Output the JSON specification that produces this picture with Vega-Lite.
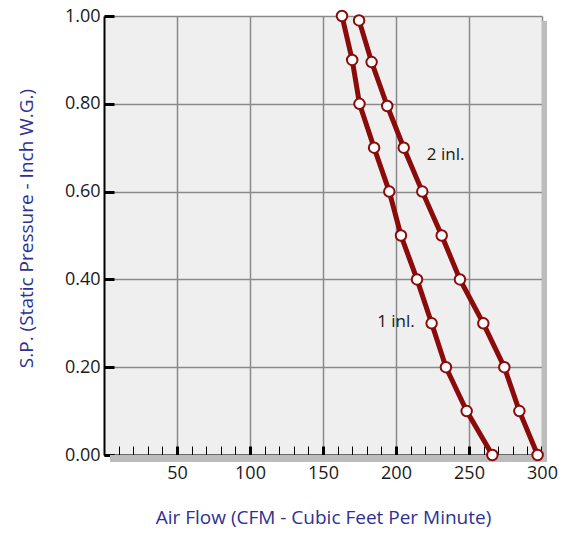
{
  "$schema": "https://vega.github.io/schema/vega-lite/v6.json",
  "width": 438,
  "height": 439,
  "autosize": {"type": "none"},
  "padding": {"left": 104, "top": 16, "right": 27, "bottom": 78},
  "background": "white",
  "config": {
    "view": {"fill": "#efefef", "stroke": null},
    "font": "Open Sans"
  },
  "datasets": {
    "curves": [
      {"series": "1 inl.", "cfm": 163, "sp": 1.0},
      {"series": "1 inl.", "cfm": 170, "sp": 0.9},
      {"series": "1 inl.", "cfm": 175, "sp": 0.8},
      {"series": "1 inl.", "cfm": 185, "sp": 0.7},
      {"series": "1 inl.", "cfm": 195.4, "sp": 0.6},
      {"series": "1 inl.", "cfm": 203.4, "sp": 0.5},
      {"series": "1 inl.", "cfm": 214.4, "sp": 0.4},
      {"series": "1 inl.", "cfm": 224.4, "sp": 0.3},
      {"series": "1 inl.", "cfm": 234.2, "sp": 0.2},
      {"series": "1 inl.", "cfm": 248.4, "sp": 0.1},
      {"series": "1 inl.", "cfm": 266, "sp": 0.0},
      {"series": "2 inl.", "cfm": 174.7, "sp": 0.99},
      {"series": "2 inl.", "cfm": 183.3, "sp": 0.895},
      {"series": "2 inl.", "cfm": 194, "sp": 0.795},
      {"series": "2 inl.", "cfm": 205.3, "sp": 0.7},
      {"series": "2 inl.", "cfm": 218, "sp": 0.6},
      {"series": "2 inl.", "cfm": 231.3, "sp": 0.5},
      {"series": "2 inl.", "cfm": 243.8, "sp": 0.4},
      {"series": "2 inl.", "cfm": 259.8, "sp": 0.3},
      {"series": "2 inl.", "cfm": 274.2, "sp": 0.2},
      {"series": "2 inl.", "cfm": 284.5, "sp": 0.1},
      {"series": "2 inl.", "cfm": 297, "sp": 0.0}
    ],
    "labels": [
      {"text": "2 inl.", "cfm": 234, "sp": 0.683},
      {"text": "1 inl.", "cfm": 200, "sp": 0.303}
    ]
  },
  "layer": [
    {
      "data": {"name": "curves"},
      "mark": {"type": "line", "color": "#8b0a0a", "strokeWidth": 5},
      "encoding": {
        "x": {
          "field": "cfm", "type": "quantitative",
          "scale": {"domain": [0, 300], "nice": false},
          "axis": {
            "values": [10, 20, 30, 40, 50, 60, 70, 80, 90, 100, 110, 120, 130, 140, 150, 160, 170, 180, 190, 200, 210, 220, 230, 240, 250, 260, 270, 280, 290, 300],
            "tickCount": 100,
            "labelExpr": "datum.value % 50 === 0 ? datum.label : ''",
            "labelFlush": false,
            "labelOverlap": false,
            "labelFontSize": 18,
            "labelColor": "#1a1a1a",
            "labelPadding": 18,
            "tickSize": -9,
            "tickColor": "#000000",
            "tickWidth": {"condition": {"test": "datum.value % 50 === 0", "value": 3}, "value": 1},
            "domainColor": "#000000",
            "domainWidth": 2,
            "grid": true,
            "gridColor": "#8a8a8a",
            "gridWidth": 1.5,
            "gridOpacity": {"condition": {"test": "datum.value % 50 === 0", "value": 1}, "value": 0},
            "title": "Air Flow (CFM - Cubic Feet Per Minute)",
            "titleFontSize": 19,
            "titleFontWeight": "normal",
            "titleColor": "#2e3192",
            "titlePadding": 26
          }
        },
        "y": {
          "field": "sp", "type": "quantitative",
          "scale": {"domain": [0, 1], "nice": false},
          "axis": {
            "values": [0, 0.2, 0.4, 0.6, 0.8, 1.0],
            "tickCount": 100,
            "format": ".2f",
            "labelFontSize": 18,
            "labelColor": "#1a1a1a",
            "labelPadding": 14,
            "tickSize": -10,
            "tickWidth": 3,
            "tickColor": "#000000",
            "domainColor": "#000000",
            "domainWidth": 2,
            "grid": true,
            "gridColor": "#8a8a8a",
            "gridWidth": 1.5,
            "title": "S.P. (Static Pressure - Inch W.G.)",
            "titleFontSize": 19,
            "titleFontWeight": "normal",
            "titleColor": "#2e3192",
            "titlePadding": 28,
            "titleY": 212
          }
        },
        "detail": {"field": "series"}
      }
    },
    {
      "data": {"values": [{}]},
      "mark": {"type": "rect", "fill": "#bcbcbc", "x2Offset": 5, "yOffset": 5, "y2Offset": 7},
      "encoding": {
        "x": {"datum": 300, "type": "quantitative"},
        "x2": {"datum": 300},
        "y": {"datum": 1, "type": "quantitative"},
        "y2": {"datum": 0}
      }
    },
    {
      "data": {"values": [{}]},
      "mark": {"type": "rect", "fill": "#bcbcbc", "xOffset": 6, "x2Offset": 5, "y2Offset": 7},
      "encoding": {
        "x": {"datum": 0, "type": "quantitative"},
        "x2": {"datum": 300},
        "y": {"datum": 0, "type": "quantitative"},
        "y2": {"datum": 0}
      }
    },
    {
      "data": {"name": "curves"},
      "mark": {"type": "point", "shape": "circle", "filled": true, "fill": "white", "stroke": "#8b0a0a", "strokeWidth": 2, "size": 110, "opacity": 1},
      "encoding": {
        "x": {"field": "cfm", "type": "quantitative"},
        "y": {"field": "sp", "type": "quantitative"}
      }
    },
    {
      "data": {"name": "labels"},
      "mark": {"type": "text", "fontSize": 17, "color": "#1a1a1a", "align": "center", "baseline": "middle"},
      "encoding": {
        "x": {"field": "cfm", "type": "quantitative"},
        "y": {"field": "sp", "type": "quantitative"},
        "text": {"field": "text"}
      }
    }
  ]
}
